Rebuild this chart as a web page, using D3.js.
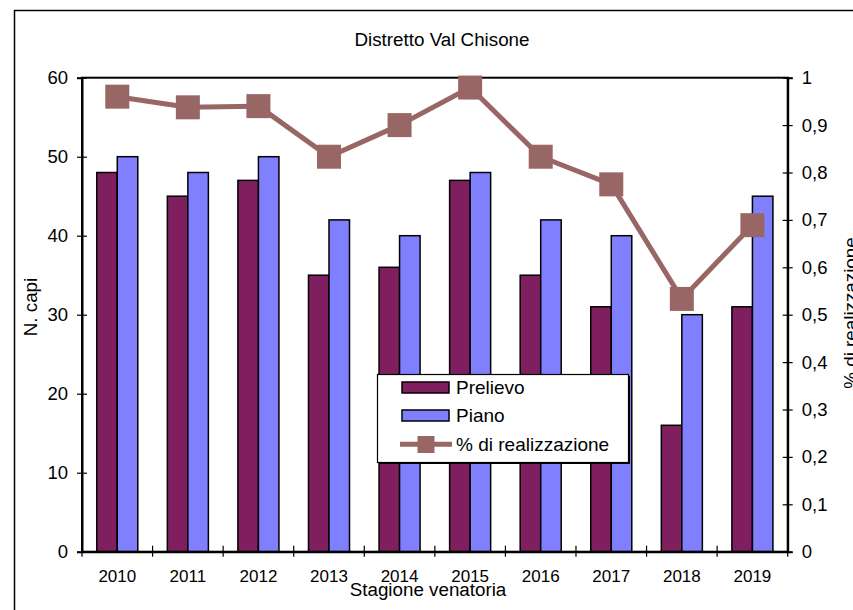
<!DOCTYPE html>
<html>
<head>
<meta charset="utf-8">
<script src="https://cdn.jsdelivr.net/npm/d3@7"></script>
<style>
  html, body { margin: 0; padding: 0; background: #fff; }
  svg { display: block; font-family: "Liberation Sans", Arial, sans-serif; }
</style>
</head>
<body>
<svg id="chart" width="853" height="610"></svg>
<script>
// ---- data ----
const years = ["2010","2011","2012","2013","2014","2015","2016","2017","2018","2019"];
const prelievo = [48, 45, 47, 35, 36, 47, 35, 31, 16, 31];
const piano = [50, 48, 50, 42, 40, 48, 42, 40, 30, 45];
const realizzazione = [0.96, 0.9375, 0.94, 0.8333, 0.9, 0.9792, 0.8333, 0.775, 0.5333, 0.6889];
const leftTicks = [0, 10, 20, 30, 40, 50, 60];
const rightTicks = [0, 0.1, 0.2, 0.3, 0.4, 0.5, 0.6, 0.7, 0.8, 0.9, 1];
const seriesNames = ["Prelievo", "Piano"];
const lineName = "% di realizzazione";

const colPrelievo = "#7f1f5f";
const colPiano = "#8080ff";
const colLine = "#996666";

const svg = d3.select("#chart");
const L = 82, R = 787.7, T = 77.7, B = 551.7;

// outer frame
svg.append("rect").attr("x", 14.5).attr("y", 10.5).attr("width", 850).attr("height", 620)
  .attr("fill", "none").attr("stroke", "#000").attr("stroke-width", 1.5);

const x0 = d3.scaleBand().domain(years).range([L, R]).padding(0);
const x1 = d3.scaleBand().domain(seriesNames).range([0, x0.bandwidth()]).paddingInner(0).paddingOuter(0.72);
const yL = d3.scaleLinear().domain([0, 60]).range([B, T]);
const yR = d3.scaleLinear().domain([0, 1]).range([B, T]);

// bars
const groups = svg.append("g").selectAll("g").data(years).join("g")
  .attr("transform", d => `translate(${x0(d)},0)`);
groups.append("rect")
  .attr("x", x1("Prelievo")).attr("width", x1.bandwidth())
  .attr("y", (d, i) => yL(prelievo[i])).attr("height", (d, i) => B - yL(prelievo[i]))
  .attr("fill", colPrelievo).attr("stroke", "#000").attr("stroke-width", 1.5);
groups.append("rect")
  .attr("x", x1("Piano")).attr("width", x1.bandwidth())
  .attr("y", (d, i) => yL(piano[i])).attr("height", (d, i) => B - yL(piano[i]))
  .attr("fill", colPiano).attr("stroke", "#000").attr("stroke-width", 1.5);

// plot border
svg.append("rect").attr("x", L).attr("y", T).attr("width", R - L).attr("height", B - T)
  .attr("fill", "none").attr("stroke", "#000").attr("stroke-width", 2);

// left axis
const axL = svg.append("g").attr("transform", `translate(${L},0)`)
  .call(d3.axisLeft(yL).tickValues(leftTicks).tickSize(5).tickPadding(9).tickFormat(d3.format("d")));
axL.select(".domain").attr("stroke-width", 2);
axL.selectAll(".tick line").attr("x1", 5).attr("x2", -5).attr("stroke-width", 1.2);
axL.selectAll("text").attr("font-size", 18.5).attr("font-family", "Liberation Sans, Arial, sans-serif").attr("fill", "#000");

// right axis
const fmtR = d => d3.format(".1~f")(d).replace(".", ",");
const axR = svg.append("g").attr("transform", `translate(${R},0)`)
  .call(d3.axisRight(yR).tickValues(rightTicks).tickSize(5).tickPadding(9).tickFormat(fmtR));
axR.select(".domain").attr("stroke-width", 2);
axR.selectAll(".tick line").attr("x1", -5).attr("x2", 5).attr("stroke-width", 1.2);
axR.selectAll("text").attr("font-size", 18.5).attr("font-family", "Liberation Sans, Arial, sans-serif").attr("fill", "#000");

// bottom axis
const axB = svg.append("g").attr("transform", `translate(0,${B})`)
  .call(d3.axisBottom(x0).tickSize(0).tickPadding(18));
axB.select(".domain").attr("stroke-width", 2);
axB.selectAll("text").attr("font-size", 17).attr("font-family", "Liberation Sans, Arial, sans-serif").attr("fill", "#000");
const bounds = years.map(d => x0(d)).concat([x0.range()[1]]);
axB.selectAll("line.bt").data(bounds).join("line").attr("class", "bt")
  .attr("x1", d => d).attr("x2", d => d).attr("y1", -6).attr("y2", 5)
  .attr("stroke", "#000").attr("stroke-width", 1.2);

// line series
const lineGen = d3.line().x((d, i) => x0(years[i]) + x0.bandwidth() / 2).y(d => yR(d));
svg.append("path").datum(realizzazione).attr("d", lineGen)
  .attr("fill", "none").attr("stroke", colLine).attr("stroke-width", 5).attr("stroke-linejoin", "round");
const ms = 24;
svg.append("g").selectAll("rect").data(realizzazione).join("rect")
  .attr("x", (d, i) => x0(years[i]) + x0.bandwidth() / 2 - ms / 2)
  .attr("y", d => yR(d) - ms / 2).attr("width", ms).attr("height", ms)
  .attr("fill", colLine);

// titles
svg.append("text").attr("x", 442).attr("y", 46).attr("text-anchor", "middle")
  .attr("font-size", 18.8).text("Distretto Val Chisone");
svg.append("text").attr("x", 428).attr("y", 596).attr("text-anchor", "middle")
  .attr("font-size", 18.8).text("Stagione venatoria");
svg.append("text").attr("transform", "translate(37,307) rotate(-90)").attr("text-anchor", "middle")
  .attr("font-size", 18.8).text("N. capi");
svg.append("text").attr("transform", "translate(857,313) rotate(-90)").attr("text-anchor", "middle")
  .attr("font-size", 18.8).text("% di realizzazione");

// legend
const lg = svg.append("g");
lg.append("rect").attr("x", 379).attr("y", 376).attr("width", 251).attr("height", 88).attr("fill", "#000");
lg.append("rect").attr("x", 377.5).attr("y", 374.5).attr("width", 251).attr("height", 88)
  .attr("fill", "#fff").attr("stroke", "#000").attr("stroke-width", 1.2);
const legendItems = [
  { name: seriesNames[0], color: colPrelievo, cy: 387.5 },
  { name: seriesNames[1], color: colPiano, cy: 415.5 }
];
legendItems.forEach(it => {
  lg.append("rect").attr("x", 402).attr("y", it.cy - 5.5).attr("width", 47).attr("height", 11)
    .attr("fill", it.color).attr("stroke", "#000").attr("stroke-width", 1.5);
  lg.append("text").attr("x", 456).attr("y", it.cy + 6).attr("font-size", 19).text(it.name);
});
lg.append("line").attr("x1", 400).attr("x2", 452).attr("y1", 444.3).attr("y2", 444.3)
  .attr("stroke", colLine).attr("stroke-width", 5);
lg.append("rect").attr("x", 417.5).attr("y", 436).attr("width", 17).attr("height", 17).attr("fill", colLine);
lg.append("text").attr("x", 456).attr("y", 450.5).attr("font-size", 19).text(lineName);
</script>
</body>
</html>
